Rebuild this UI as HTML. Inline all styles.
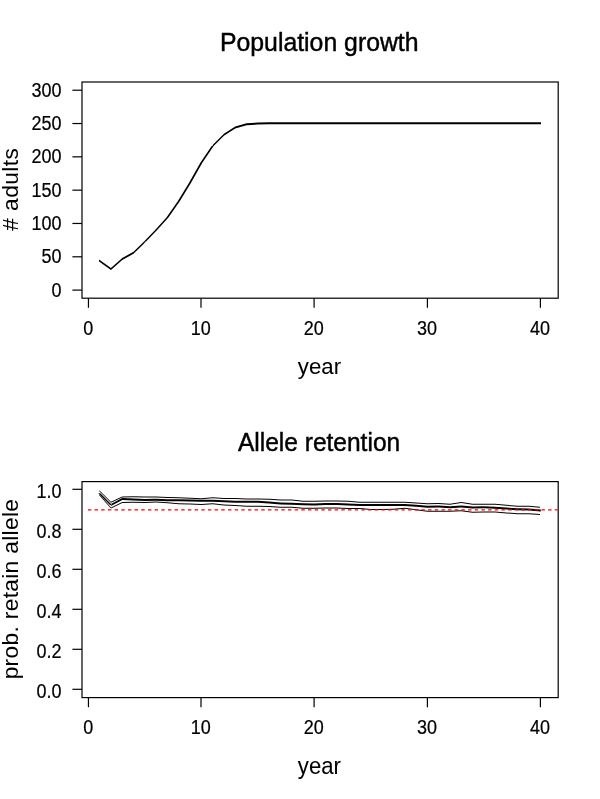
<!DOCTYPE html>
<html><head><meta charset="utf-8"><title>Population growth / Allele retention</title>
<style>
html,body{margin:0;padding:0;background:#fff;}
body{width:600px;height:799px;overflow:hidden;}
svg{display:block;will-change:transform;}
text{font-family:"Liberation Sans",Arial,sans-serif;fill:#000;font-kerning:none;}
.tk{font-size:18px;stroke:#000;stroke-width:0.2px;}
.mn{stroke:#000;stroke-width:0.45px;}
.lb{stroke:#000;stroke-width:0.05px;}
.ax{fill:none;stroke:#000;stroke-width:1.2;}
.thick{fill:none;stroke:#000;stroke-width:1.85;stroke-linejoin:round;stroke-linecap:round;}
.af{fill:#000;stroke:none;}
.thin{fill:none;stroke:#000;stroke-width:1.05;stroke-linejoin:round;stroke-linecap:round;}
.red{fill:none;stroke:#f00;stroke-width:1.2;stroke-dasharray:3.45 3.22;stroke-dashoffset:-1.9;}
</style></head>
<body>
<svg width="600" height="799" viewBox="0 0 600 799">
<rect width="600" height="799" fill="#fff"/>
<rect x="82.0" y="82.0" width="476.20" height="216.20" class="ax"/>
<line x1="88.45" y1="298.2" x2="88.45" y2="307.8" class="ax"/>
<text transform="translate(88.15,334.5) scale(1,1.08)" class="tk" text-anchor="middle">0</text>
<line x1="201.00" y1="298.2" x2="201.00" y2="307.8" class="ax"/>
<text transform="translate(200.70,334.5) scale(1,1.08)" class="tk" text-anchor="middle">10</text>
<line x1="314.10" y1="298.2" x2="314.10" y2="307.8" class="ax"/>
<text transform="translate(313.80,334.5) scale(1,1.08)" class="tk" text-anchor="middle">20</text>
<line x1="427.40" y1="298.2" x2="427.40" y2="307.8" class="ax"/>
<text transform="translate(427.10,334.5) scale(1,1.08)" class="tk" text-anchor="middle">30</text>
<line x1="540.40" y1="298.2" x2="540.40" y2="307.8" class="ax"/>
<text transform="translate(540.10,334.5) scale(1,1.08)" class="tk" text-anchor="middle">40</text>
<line x1="72.4" y1="290.10" x2="82.0" y2="290.10" class="ax"/>
<text transform="translate(61.4,296.70) scale(1,1.08)" class="tk" text-anchor="end">0</text>
<line x1="72.4" y1="256.79" x2="82.0" y2="256.79" class="ax"/>
<text transform="translate(61.4,263.39) scale(1,1.08)" class="tk" text-anchor="end">50</text>
<line x1="72.4" y1="223.47" x2="82.0" y2="223.47" class="ax"/>
<text transform="translate(61.4,230.07) scale(1,1.08)" class="tk" text-anchor="end">100</text>
<line x1="72.4" y1="190.16" x2="82.0" y2="190.16" class="ax"/>
<text transform="translate(61.4,196.76) scale(1,1.08)" class="tk" text-anchor="end">150</text>
<line x1="72.4" y1="156.84" x2="82.0" y2="156.84" class="ax"/>
<text transform="translate(61.4,163.44) scale(1,1.08)" class="tk" text-anchor="end">200</text>
<line x1="72.4" y1="123.53" x2="82.0" y2="123.53" class="ax"/>
<text transform="translate(61.4,130.13) scale(1,1.08)" class="tk" text-anchor="end">250</text>
<line x1="72.4" y1="90.21" x2="82.0" y2="90.21" class="ax"/>
<text transform="translate(61.4,96.81) scale(1,1.08)" class="tk" text-anchor="end">300</text>
<text class="mn" transform="translate(219.96,50.70) scale(0.9623,1)" style="font-size:25.8px">Population growth</text>
<text class="lb" transform="translate(297.85,374.20) scale(0.9683,1)" style="font-size:23.0px">year</text>
<text class="lbv" transform="translate(17.90,230.70) rotate(-90)" style="font-size:22.8px;letter-spacing:0.381px"># adults</text>
<path d="M99.05,259.56 L110.95,267.91 L110.95,269.91 L99.05,261.56ZM110.95,267.91 L122.25,257.92 L122.25,259.92 L110.95,269.91ZM122.25,257.92 L133.55,251.79 L133.55,253.79 L122.25,259.92ZM133.55,251.79 L144.85,240.73 L144.85,242.73 L133.55,253.79ZM143.85,241.73 L155.15,230.00 L157.15,230.00 L145.85,241.73ZM155.15,230.00 L166.45,217.47 L168.45,217.47 L157.15,230.00ZM166.45,217.47 L177.75,201.35 L179.75,201.35 L168.45,217.47ZM177.75,201.35 L189.05,182.83 L191.05,182.83 L179.75,201.35ZM189.05,182.83 L200.35,162.70 L202.35,162.70 L191.05,182.83ZM200.35,162.70 L211.65,146.05 L213.65,146.05 L202.35,162.70ZM212.65,145.05 L223.95,133.85 L223.95,135.85 L212.65,147.05ZM223.95,133.85 L235.25,126.39 L235.25,128.39 L223.95,135.85ZM235.25,126.39 L246.55,123.32 L246.55,125.32 L235.25,128.39ZM246.55,123.32 L257.85,122.53 L257.85,124.53 L246.55,125.32ZM257.85,122.53 L269.15,122.23 L269.15,124.23 L257.85,124.53ZM269.15,122.23 L280.45,122.23 L280.45,124.23 L269.15,124.23ZM280.45,122.23 L291.75,122.23 L291.75,124.23 L280.45,124.23ZM291.75,122.23 L303.05,122.23 L303.05,124.23 L291.75,124.23ZM303.05,122.23 L314.35,122.23 L314.35,124.23 L303.05,124.23ZM314.35,122.23 L325.65,122.23 L325.65,124.23 L314.35,124.23ZM325.65,122.23 L336.95,122.23 L336.95,124.23 L325.65,124.23ZM336.95,122.23 L348.25,122.23 L348.25,124.23 L336.95,124.23ZM348.25,122.23 L359.55,122.23 L359.55,124.23 L348.25,124.23ZM359.55,122.23 L370.85,122.23 L370.85,124.23 L359.55,124.23ZM370.85,122.23 L382.15,122.23 L382.15,124.23 L370.85,124.23ZM382.15,122.23 L393.45,122.23 L393.45,124.23 L382.15,124.23ZM393.45,122.23 L404.75,122.23 L404.75,124.23 L393.45,124.23ZM404.75,122.23 L416.05,122.23 L416.05,124.23 L404.75,124.23ZM416.05,122.23 L427.35,122.23 L427.35,124.23 L416.05,124.23ZM427.35,122.23 L438.65,122.23 L438.65,124.23 L427.35,124.23ZM438.65,122.23 L449.95,122.23 L449.95,124.23 L438.65,124.23ZM449.95,122.23 L461.25,122.23 L461.25,124.23 L449.95,124.23ZM461.25,122.23 L472.55,122.23 L472.55,124.23 L461.25,124.23ZM472.55,122.23 L483.85,122.23 L483.85,124.23 L472.55,124.23ZM483.85,122.23 L495.15,122.23 L495.15,124.23 L483.85,124.23ZM495.15,122.23 L506.45,122.23 L506.45,124.23 L495.15,124.23ZM506.45,122.23 L517.75,122.23 L517.75,124.23 L506.45,124.23ZM517.75,122.23 L529.05,122.23 L529.05,124.23 L517.75,124.23ZM529.05,122.23 L541.00,122.23 L541.00,124.23 L529.05,124.23Z" class="af"/>
<rect x="82.0" y="481.6" width="476.20" height="216.00" class="ax"/>
<line x1="88.45" y1="697.6" x2="88.45" y2="707.2" class="ax"/>
<text transform="translate(88.15,733.8) scale(1,1.08)" class="tk" text-anchor="middle">0</text>
<line x1="201.00" y1="697.6" x2="201.00" y2="707.2" class="ax"/>
<text transform="translate(200.70,733.8) scale(1,1.08)" class="tk" text-anchor="middle">10</text>
<line x1="314.10" y1="697.6" x2="314.10" y2="707.2" class="ax"/>
<text transform="translate(313.80,733.8) scale(1,1.08)" class="tk" text-anchor="middle">20</text>
<line x1="427.40" y1="697.6" x2="427.40" y2="707.2" class="ax"/>
<text transform="translate(427.10,733.8) scale(1,1.08)" class="tk" text-anchor="middle">30</text>
<line x1="540.40" y1="697.6" x2="540.40" y2="707.2" class="ax"/>
<text transform="translate(540.10,733.8) scale(1,1.08)" class="tk" text-anchor="middle">40</text>
<line x1="72.4" y1="689.30" x2="82.0" y2="689.30" class="ax"/>
<text transform="translate(61.4,697.60) scale(1,1.08)" class="tk" text-anchor="end">0.0</text>
<line x1="72.4" y1="649.30" x2="82.0" y2="649.30" class="ax"/>
<text transform="translate(61.4,657.60) scale(1,1.08)" class="tk" text-anchor="end">0.2</text>
<line x1="72.4" y1="609.30" x2="82.0" y2="609.30" class="ax"/>
<text transform="translate(61.4,617.60) scale(1,1.08)" class="tk" text-anchor="end">0.4</text>
<line x1="72.4" y1="569.30" x2="82.0" y2="569.30" class="ax"/>
<text transform="translate(61.4,577.60) scale(1,1.08)" class="tk" text-anchor="end">0.6</text>
<line x1="72.4" y1="529.30" x2="82.0" y2="529.30" class="ax"/>
<text transform="translate(61.4,537.60) scale(1,1.08)" class="tk" text-anchor="end">0.8</text>
<line x1="72.4" y1="489.30" x2="82.0" y2="489.30" class="ax"/>
<text transform="translate(61.4,497.60) scale(1,1.08)" class="tk" text-anchor="end">1.0</text>
<text class="mn" transform="translate(237.95,450.70) scale(0.9512,1)" style="font-size:25.8px">Allele retention</text>
<text class="lb" transform="translate(297.85,774.20) scale(0.9638,1)" style="font-size:23.0px">year</text>
<text class="lbv" transform="translate(17.90,679.37) rotate(-90)" style="font-size:22.8px;letter-spacing:0.304px">prob. retain allele</text>
<path d="M99.30,490.36 L110.95,501.80 L110.95,502.80 L99.30,491.36ZM110.95,501.80 L122.25,496.50 L122.25,497.50 L110.95,502.80ZM122.25,496.50 L133.55,496.30 L133.55,497.30 L122.25,497.50ZM133.55,496.30 L144.85,496.50 L144.85,497.50 L133.55,497.30ZM144.85,496.50 L156.15,496.60 L156.15,497.60 L144.85,497.50ZM156.15,496.60 L167.45,497.10 L167.45,498.10 L156.15,497.60ZM167.45,497.10 L178.75,497.20 L178.75,498.20 L167.45,498.10ZM178.75,497.20 L190.05,497.70 L190.05,498.70 L178.75,498.20ZM190.05,497.70 L201.35,498.30 L201.35,499.30 L190.05,498.70ZM201.35,498.30 L212.65,497.30 L212.65,498.30 L201.35,499.30ZM212.65,497.30 L223.95,497.90 L223.95,498.90 L212.65,498.30ZM223.95,497.90 L235.25,498.10 L235.25,499.10 L223.95,498.90ZM235.25,498.10 L246.55,498.50 L246.55,499.50 L235.25,499.10ZM246.55,498.50 L257.85,498.50 L257.85,499.50 L246.55,499.50ZM257.85,498.50 L269.15,498.70 L269.15,499.70 L257.85,499.50ZM269.15,498.70 L280.45,499.50 L280.45,500.50 L269.15,499.70ZM280.45,499.50 L291.75,499.50 L291.75,500.50 L280.45,500.50ZM291.75,499.50 L303.05,500.70 L303.05,501.70 L291.75,500.50ZM303.05,500.70 L314.35,500.80 L314.35,501.80 L303.05,501.70ZM314.35,500.80 L325.65,500.50 L325.65,501.50 L314.35,501.80ZM325.65,500.50 L336.95,500.50 L336.95,501.50 L325.65,501.50ZM336.95,500.50 L348.25,500.70 L348.25,501.70 L336.95,501.50ZM348.25,500.70 L359.55,501.80 L359.55,502.80 L348.25,501.70ZM359.55,501.80 L370.85,501.80 L370.85,502.80 L359.55,502.80ZM370.85,501.80 L382.15,501.80 L382.15,502.80 L370.85,502.80ZM382.15,501.80 L393.45,501.80 L393.45,502.80 L382.15,502.80ZM393.45,501.80 L404.75,501.80 L404.75,502.80 L393.45,502.80ZM404.75,501.80 L416.05,502.50 L416.05,503.50 L404.75,502.80ZM416.05,502.50 L427.35,503.20 L427.35,504.20 L416.05,503.50ZM427.35,503.20 L438.65,503.10 L438.65,504.10 L427.35,504.20ZM438.65,503.10 L449.95,503.80 L449.95,504.80 L438.65,504.10ZM449.95,503.80 L461.25,502.00 L461.25,503.00 L449.95,504.80ZM461.25,502.00 L472.55,503.70 L472.55,504.70 L461.25,503.00ZM472.55,503.70 L483.85,503.80 L483.85,504.80 L472.55,504.70ZM483.85,503.80 L495.15,503.80 L495.15,504.80 L483.85,504.80ZM495.15,503.80 L506.45,504.80 L506.45,505.80 L495.15,504.80ZM506.45,504.80 L517.75,505.70 L517.75,506.70 L506.45,505.80ZM517.75,505.70 L529.05,505.80 L529.05,506.80 L517.75,506.70ZM529.05,505.80 L539.95,506.67 L539.95,507.67 L529.05,506.80Z" class="af"/>
<path d="M98.80,494.80 L110.45,508.00 L111.45,508.00 L99.80,494.80ZM110.95,507.50 L122.25,501.90 L122.25,502.90 L110.95,508.50ZM122.25,501.90 L133.55,501.80 L133.55,502.80 L122.25,502.90ZM133.55,501.80 L144.85,502.00 L144.85,503.00 L133.55,502.80ZM144.85,502.00 L156.15,501.50 L156.15,502.50 L144.85,503.00ZM156.15,501.50 L167.45,502.20 L167.45,503.20 L156.15,502.50ZM167.45,502.20 L178.75,503.20 L178.75,504.20 L167.45,503.20ZM178.75,503.20 L190.05,503.40 L190.05,504.40 L178.75,504.20ZM190.05,503.40 L201.35,504.10 L201.35,505.10 L190.05,504.40ZM201.35,504.10 L212.65,503.30 L212.65,504.30 L201.35,505.10ZM212.65,503.30 L223.95,504.50 L223.95,505.50 L212.65,504.30ZM223.95,504.50 L235.25,505.00 L235.25,506.00 L223.95,505.50ZM235.25,505.00 L246.55,505.70 L246.55,506.70 L235.25,506.00ZM246.55,505.70 L257.85,505.80 L257.85,506.80 L246.55,506.70ZM257.85,505.80 L269.15,506.00 L269.15,507.00 L257.85,506.80ZM269.15,506.00 L280.45,506.80 L280.45,507.80 L269.15,507.00ZM280.45,506.80 L291.75,506.80 L291.75,507.80 L280.45,507.80ZM291.75,506.80 L303.05,507.70 L303.05,508.70 L291.75,507.80ZM303.05,507.70 L314.35,507.80 L314.35,508.80 L303.05,508.70ZM314.35,507.80 L325.65,507.50 L325.65,508.50 L314.35,508.80ZM325.65,507.50 L336.95,507.50 L336.95,508.50 L325.65,508.50ZM336.95,507.50 L348.25,508.10 L348.25,509.10 L336.95,508.50ZM348.25,508.10 L359.55,508.10 L359.55,509.10 L348.25,509.10ZM359.55,508.10 L370.85,509.00 L370.85,510.00 L359.55,509.10ZM370.85,509.00 L382.15,509.00 L382.15,510.00 L370.85,510.00ZM382.15,509.00 L393.45,508.80 L393.45,509.80 L382.15,510.00ZM393.45,508.80 L404.75,507.80 L404.75,508.80 L393.45,509.80ZM404.75,507.80 L416.05,509.20 L416.05,510.20 L404.75,508.80ZM416.05,509.20 L427.35,510.70 L427.35,511.70 L416.05,510.20ZM427.35,510.70 L438.65,510.80 L438.65,511.80 L427.35,511.70ZM438.65,510.80 L449.95,510.80 L449.95,511.80 L438.65,511.80ZM449.95,510.80 L461.25,510.30 L461.25,511.30 L449.95,511.80ZM461.25,510.30 L472.55,511.80 L472.55,512.80 L461.25,511.30ZM472.55,511.80 L483.85,511.50 L483.85,512.50 L472.55,512.80ZM483.85,511.50 L495.15,511.50 L495.15,512.50 L483.85,512.50ZM495.15,511.50 L506.45,512.50 L506.45,513.50 L495.15,512.50ZM506.45,512.50 L517.75,513.20 L517.75,514.20 L506.45,513.50ZM517.75,513.20 L529.05,513.20 L529.05,514.20 L517.75,514.20ZM529.05,513.20 L539.95,513.88 L539.95,514.88 L529.05,514.20Z" class="af"/>
<path d="M98.30,493.15 L109.95,504.90 L111.95,504.90 L100.30,493.15ZM110.95,503.90 L122.25,498.10 L122.25,500.10 L110.95,505.90ZM122.25,498.10 L133.55,498.60 L133.55,500.60 L122.25,500.10ZM133.55,498.60 L144.85,499.00 L144.85,501.00 L133.55,500.60ZM144.85,499.00 L156.15,498.80 L156.15,500.80 L144.85,501.00ZM156.15,498.80 L167.45,499.20 L167.45,501.20 L156.15,500.80ZM167.45,499.20 L178.75,499.20 L178.75,501.20 L167.45,501.20ZM178.75,499.20 L190.05,499.60 L190.05,501.60 L178.75,501.20ZM190.05,499.60 L201.35,499.70 L201.35,501.70 L190.05,501.60ZM201.35,499.70 L212.65,499.70 L212.65,501.70 L201.35,501.70ZM212.65,499.70 L223.95,500.30 L223.95,502.30 L212.65,501.70ZM223.95,500.30 L235.25,500.80 L235.25,502.80 L223.95,502.30ZM235.25,500.80 L246.55,500.70 L246.55,502.70 L235.25,502.80ZM246.55,500.70 L257.85,500.80 L257.85,502.80 L246.55,502.70ZM257.85,500.80 L269.15,501.50 L269.15,503.50 L257.85,502.80ZM269.15,501.50 L280.45,502.50 L280.45,504.50 L269.15,503.50ZM280.45,502.50 L291.75,502.70 L291.75,504.70 L280.45,504.50ZM291.75,502.70 L303.05,503.20 L303.05,505.20 L291.75,504.70ZM303.05,503.20 L314.35,503.50 L314.35,505.50 L303.05,505.20ZM314.35,503.50 L325.65,503.00 L325.65,505.00 L314.35,505.50ZM325.65,503.00 L336.95,503.00 L336.95,505.00 L325.65,505.00ZM336.95,503.00 L348.25,503.40 L348.25,505.40 L336.95,505.00ZM348.25,503.40 L359.55,504.10 L359.55,506.10 L348.25,505.40ZM359.55,504.10 L370.85,504.10 L370.85,506.10 L359.55,506.10ZM370.85,504.10 L382.15,504.10 L382.15,506.10 L370.85,506.10ZM382.15,504.10 L393.45,504.00 L393.45,506.00 L382.15,506.10ZM393.45,504.00 L404.75,504.00 L404.75,506.00 L393.45,506.00ZM404.75,504.00 L416.05,504.70 L416.05,506.70 L404.75,506.00ZM416.05,504.70 L427.35,505.70 L427.35,507.70 L416.05,506.70ZM427.35,505.70 L438.65,505.50 L438.65,507.50 L427.35,507.70ZM438.65,505.50 L449.95,506.30 L449.95,508.30 L438.65,507.50ZM449.95,506.30 L461.25,505.50 L461.25,507.50 L449.95,508.30ZM461.25,505.50 L472.55,506.60 L472.55,508.60 L461.25,507.50ZM472.55,506.60 L483.85,506.30 L483.85,508.30 L472.55,508.60ZM483.85,506.30 L495.15,506.80 L495.15,508.80 L483.85,508.30ZM495.15,506.80 L506.45,507.60 L506.45,509.60 L495.15,508.80ZM506.45,507.60 L517.75,508.30 L517.75,510.30 L506.45,509.60ZM517.75,508.30 L529.05,508.50 L529.05,510.50 L517.75,510.30ZM529.05,508.50 L540.80,509.54 L540.80,511.54 L529.05,510.50Z" class="af"/>
<line x1="86" y1="509.85" x2="557.6" y2="509.85" class="red"/>
</svg>
</body></html>
